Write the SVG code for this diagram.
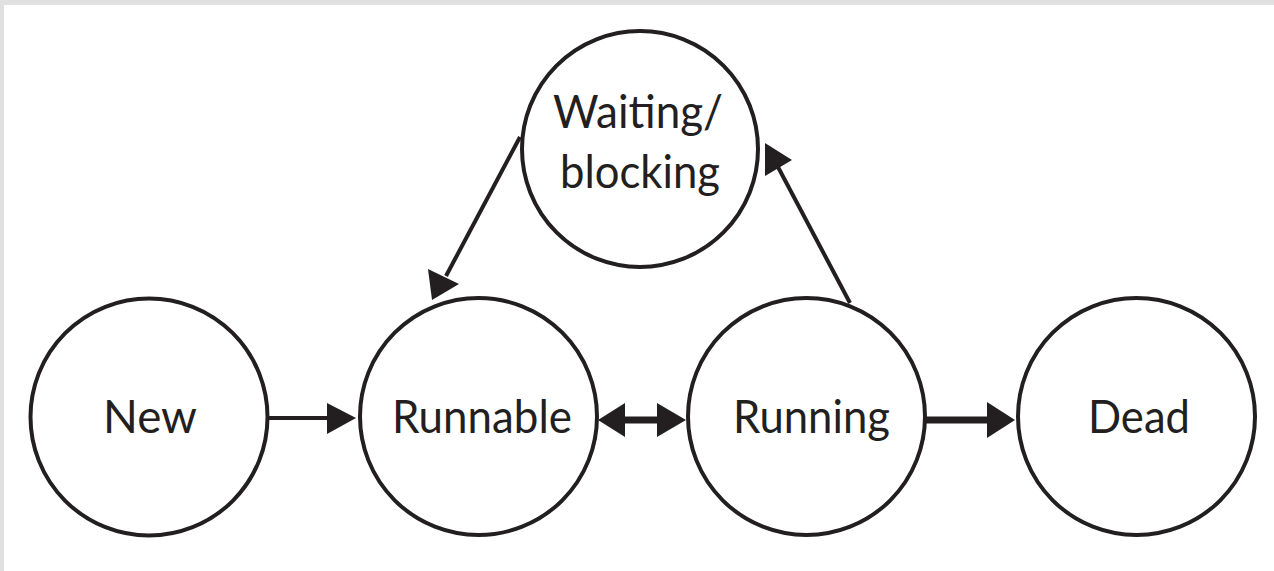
<svg xmlns="http://www.w3.org/2000/svg" width="1274" height="571" viewBox="0 0 1274 571">
<style>
.node circle{fill:#fff;stroke:#231f20;stroke-width:4}
.node text{font-family:Lato,"Open Sans","Liberation Sans",sans-serif;font-size:47px;fill:#231f20;text-anchor:middle}
.edge{stroke:#231f20;fill:none}
.head{fill:#231f20;stroke:none}
</style>
<rect x="0" y="0" width="1274" height="571" fill="#fff"/>
<rect x="0" y="0" width="1274" height="5" fill="#e0e0e0"/>
<rect x="0" y="0" width="4" height="571" fill="#e0e0e0"/>
<g id="connectors">
<line class="edge" x1="268" y1="418" x2="330" y2="418" stroke-width="4" stroke="#3a3637"/>
<polygon class="head" points="327,403 356,418 327,434"/>
<line class="edge" x1="620" y1="420" x2="662" y2="420" stroke-width="7"/>
<polygon class="head" points="598,420 625,403 625,437"/>
<polygon class="head" points="686,420 657,403 657,437"/>
<line class="edge" x1="925" y1="420" x2="990" y2="420" stroke-width="7"/>
<polygon class="head" points="1015,420 987,402 987,438"/>
<line class="edge" x1="520" y1="137" x2="446" y2="276" stroke-width="4"/>
<polygon class="head" points="432,300 428,269 459,284"/>
<line class="edge" x1="850" y1="303" x2="778" y2="167" stroke-width="4"/>
<polygon class="head" points="765,143 792,160 765,176"/>
</g>
<g id="new" class="node"><circle cx="149" cy="417" r="118.5"/><text x="150" y="433" textLength="94" lengthAdjust="spacingAndGlyphs">New</text></g>
<g id="runnable" class="node"><circle cx="478.5" cy="416.5" r="118.5"/><text x="482" y="433" textLength="180" lengthAdjust="spacingAndGlyphs">Runnable</text></g>
<g id="running" class="node"><circle cx="806.5" cy="416.5" r="118.5"/><text x="811.5" y="433" textLength="157" lengthAdjust="spacingAndGlyphs">Running</text></g>
<g id="dead" class="node"><circle cx="1136.5" cy="416.5" r="118.5"/><text x="1139" y="433" textLength="102" lengthAdjust="spacingAndGlyphs">Dead</text></g>
<g id="waiting" class="node"><circle cx="640" cy="149" r="118"/><text x="638" y="128" textLength="170" lengthAdjust="spacingAndGlyphs">Waiting/</text><text x="640" y="188" textLength="160" lengthAdjust="spacingAndGlyphs">blocking</text></g>
</svg>
